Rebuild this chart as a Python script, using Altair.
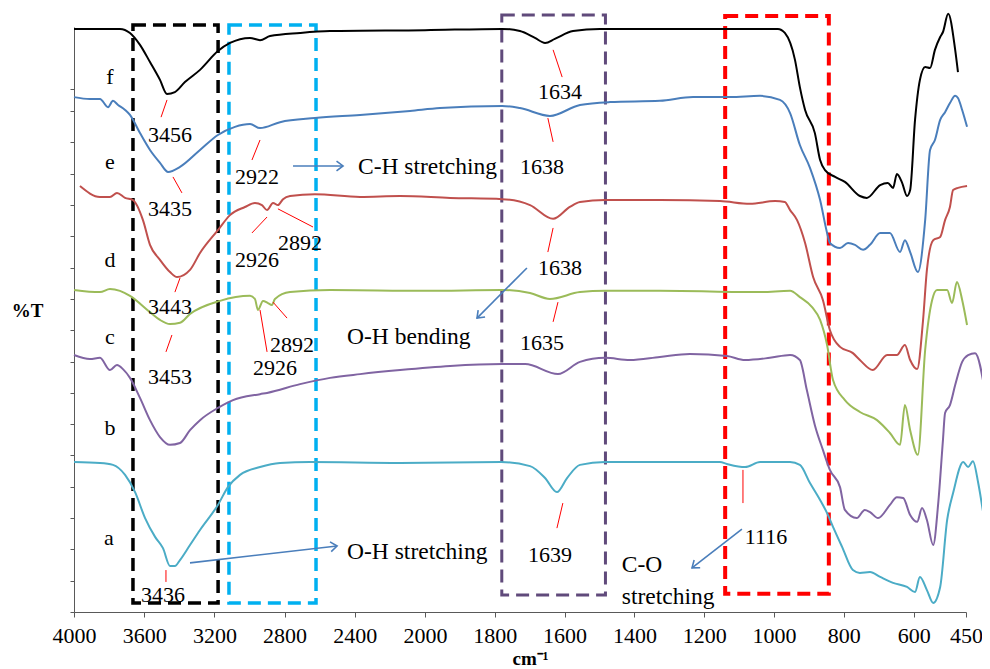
import altair as alt
import pandas as pd

# ---------------- data (wavenumber cm-1, offset %T in tick units) ----------------
series_names = ["a", "b", "c", "d", "e", "f"]
series_colors = ["#4bacc6", "#8064a2", "#9bbb59", "#c0504d", "#4a7ebb", "#000000"]

f_wn = [4000,3738,3681,3624,3567,3510,3470,3425,3368,3282,3180,3111,2997,2940,2883,2712,2541,2000,1779,1728,
        1685,1656,1628,1576,1499,989,969,940,926,911,883,868,854,825,797,754,734,696,674,659,
        648,633,619,610,596,582,567,553,539,524,516,501,481,473]
f_t = [18.63,18.63,18.50,18.12,17.57,17.00,16.55,16.61,16.93,17.32,17.92,18.18,18.34,18.27,18.40,18.50,18.56,18.59,18.63,18.56,
       18.34,18.18,18.31,18.56,18.63,18.63,18.50,17.64,16.77,16.04,15.30,14.44,14.12,13.90,13.74,13.29,13.23,13.64,13.71,13.55,
       13.99,13.71,13.29,13.48,15.72,17.00,17.41,17.38,17.96,18.37,18.53,19.11,17.96,17.25]

e_wn = [4000,3909,3852,3806,3778,3749,3709,3681,3624,3567,3510,3464,3396,3282,3180,3083,2997,2940,2826,2627,
        2370,2085,1957,1779,1728,1642,1556,1470,1327,1232,1126,1040,983,954,926,897,868,848,840,811,
        788,768,745,725,696,668,639,625,610,588,567,553,539,524,510,496,481,473,461,447]
e_t = [16.45,16.39,16.39,16.13,16.33,16.20,16.04,15.88,15.30,14.76,14.35,14.06,14.22,14.76,15.24,15.50,15.59,15.46,15.65,15.78,
       15.88,16.01,16.10,16.17,16.10,15.85,16.20,16.29,16.33,16.45,16.45,16.49,16.36,15.94,14.92,14.19,13.16,12.11,11.79,11.63,
       11.79,11.73,11.57,11.73,12.11,12.11,11.50,11.88,11.50,10.86,12.52,14.76,15.08,15.72,15.97,16.26,16.49,16.42,16.04,15.50]

d_wn = [3966,3852,3795,3755,3709,3664,3607,3567,3510,3453,3413,3339,3282,3180,3111,3026,2969,2929,2900,2866,
        2838,2809,2769,2627,2370,2142,1928,1779,1699,1633,1585,1556,1484,1327,1155,1069,997,969,954,934,
        911,888,860,840,811,774,754,717,676,648,625,610,590,573,562,544,524,510,496,487,473,447]
d_t = [13.61,13.26,13.26,13.39,13.23,13.16,12.52,11.73,11.25,10.86,10.70,10.93,11.47,12.20,12.68,12.94,13.07,13.00,12.84,13.07,
       13.00,13.19,13.29,13.35,13.26,13.29,13.23,13.19,13.00,12.56,12.94,13.10,13.16,13.16,13.13,13.04,13.13,13.10,12.84,12.52,
       11.79,10.70,9.97,9.01,8.47,8.27,8.05,7.73,8.21,8.21,8.53,8.05,7.76,9.33,10.93,11.88,11.98,12.52,12.94,13.48,13.55,13.61]

c_wn = [4000,3852,3795,3738,3681,3567,3510,3453,3396,3339,3168,2997,2969,2952,2923,2895,2872,2855,2769,2541,
        2000,1779,1699,1642,1556,1484,1327,1040,954,926,891,868,848,831,797,754,705,668,639,625,
        610,588,567,547,533,504,490,476,461,447]
c_t = [10.29,10.22,10.32,10.26,10.10,9.58,9.33,9.20,9.24,9.52,9.94,10.10,10.00,9.65,9.94,9.87,9.81,10.00,10.22,10.29,
       10.26,10.29,10.19,10.00,10.22,10.26,10.26,10.22,10.26,10.06,9.74,9.33,8.53,7.41,6.77,6.39,6.13,5.72,5.34,6.61,
       5.81,5.02,8.37,9.97,10.29,10.29,9.87,10.54,9.97,9.17]

b_wn = [4000,3909,3852,3795,3755,3721,3681,3624,3567,3510,3453,3396,3339,3282,3180,3094,2940,2900,2712,2541,
        2370,2142,1928,1779,1713,1619,1556,1484,1413,1327,1241,1135,1083,1012,954,926,906,883,860,840,
        811,797,763,740,725,702,668,648,630,610,590,576,562,544,530,516,510,496,481,461,444,424,395]
b_t = [8.21,8.08,8.12,7.73,7.89,7.76,7.48,6.84,6.13,5.59,5.34,5.40,5.81,6.13,6.52,6.77,6.96,7.00,7.28,7.48,
       7.60,7.73,7.86,7.92,7.92,7.60,7.99,8.12,8.05,8.15,8.24,8.18,8.05,8.12,8.21,8.05,7.09,5.97,5.18,4.54,
       3.99,3.26,3.00,3.26,3.19,3.00,3.42,3.67,3.64,3.10,2.88,3.32,2.94,2.14,3.42,5.50,6.36,6.61,7.25,7.99,8.21,8.27,7.00]

a_wn = [4000,3852,3778,3709,3652,3595,3538,3493,3453,3425,3396,3339,3282,3180,3123,3054,2940,2826,2655,2142,
        1782,1699,1656,1622,1593,1556,1484,1155,1135,1083,1040,954,926,897,868,848,831,805,774,754,
        725,696,659,619,596,582,562,544,524,504,487,458,444,430,415,401]
a_t = [4.79,4.76,4.70,4.38,3.83,3.00,2.40,2.04,1.47,1.47,1.66,2.14,2.62,3.42,3.99,4.38,4.63,4.76,4.79,4.76,
       4.79,4.66,4.28,3.83,4.28,4.70,4.79,4.79,4.73,4.63,4.79,4.79,4.70,4.12,3.58,3.16,2.72,2.08,1.34,1.25,
       1.28,1.12,0.93,0.80,0.64,1.12,0.70,0.29,0.80,2.94,3.80,4.79,4.63,4.82,4.12,3.19]

# curve letters
letter_text = ["f", "e", "d", "c", "b", "a"]
letter_wn = [3795, 3795, 3795, 3795, 3795, 3801]
letter_t = [17.09, 14.38, 11.25, 8.79, 5.88, 2.36]

# peak labels and their leader lines
peak_text = ["3456", "3435", "2922", "2926", "2892", "3443", "3453", "2926", "2892", "3436",
             "1634", "1638", "1638", "1635", "1639", "1116"]
peak_wn = [3453, 3453, 2957, 2957, 2712, 3453, 3453, 2855, 2758, 3493,
           1613, 1665, 1613, 1665, 1642, 1023]
peak_t = [15.24, 12.88, 13.90, 11.25, 11.79, 9.74, 7.51, 7.80, 8.53, 0.54,
          16.61, 14.22, 10.99, 8.59, 1.82, 2.40]
lead_wn1 = [3470, 3436, 2940, 2900, 2838, 3396, 3442, 2940, 2866, 3476, 1633, 1648, 1633, 1619, 1605, 1089]
lead_t1 = [16.36, 13.90, 15.08, 12.62, 12.88, 10.67, 8.85, 9.65, 9.90, 1.34, 17.96, 15.78, 12.27, 9.90, 3.48, 4.54]
lead_wn2 = [3504, 3385, 2986, 2986, 2638, 3425, 3476, 2900, 2786, 3476, 1607, 1633, 1648, 1633, 1622, 1089]
lead_t2 = [15.81, 13.39, 14.44, 12.11, 12.30, 10.22, 8.31, 8.31, 9.39, 0.96, 17.09, 15.02, 11.50, 9.27, 2.68, 3.48]

# band annotations
note_text = ["O-H stretching", "C-H stretching", "O-H bending", "C-O", "stretching"]
note_wn = [2444, 2382, 2444, 1436, 1436]
note_t = [1.92, 14.22, 8.79, 1.50, 0.48]

# arrows (start -> head)
arrow_wn1 = [3339, 2752, 1708, 1092]
arrow_t1 = [1.57, 14.25, 10.99, 2.65]
arrow_wn2 = [2501, 2467, 1851, 1235]
arrow_t2 = [2.11, 14.25, 9.39, 1.41]
arrow_angle = [353, 0, 135, 142]

# dashed region boxes
box_wn1 = [3664, 3117, 1780, 1140]
box_wn2 = [3179, 2621, 1483, 843]
box_t1 = [0.29, 0.29, 0.54, 0.58]
box_t2 = [18.75, 18.75, 19.07, 19.04]
box_color = ["#000000", "#00b0f0", "#604a7b", "#ff0000"]
box_width = [3.5, 3.5, 3.0, 4.0]

x_ticks = [4000, 3600, 3200, 2800, 2400, 2000, 1800, 1600, 1400, 1200, 1000, 800, 600, 450]
y_ticks = list(range(0, 17)) + [16.7]

# ---------------- tables ----------------
rows = []
for name, wn, t in [("a", a_wn, a_t), ("b", b_wn, b_t), ("c", c_wn, c_t),
                    ("d", d_wn, d_t), ("e", e_wn, e_t), ("f", f_wn, f_t)]:
    for w, v in zip(wn, t):
        rows.append({"series": name, "wn": w, "t": v})
spectra = pd.DataFrame(rows)

letters = pd.DataFrame({"wn": letter_wn, "t": letter_t, "label": letter_text})
peaks = pd.DataFrame({"wn": peak_wn, "t": peak_t, "label": peak_text})
leaders = pd.DataFrame({"wn": lead_wn1, "t": lead_t1, "wn2": lead_wn2, "t2": lead_t2})
notes = pd.DataFrame({"wn": note_wn, "t": note_t, "label": note_text})
arrows = pd.DataFrame({"wn": arrow_wn1, "t": arrow_t1, "wn2": arrow_wn2, "t2": arrow_t2})
heads = pd.DataFrame({"wn": arrow_wn2, "t": arrow_t2, "ang": arrow_angle})
boxes = pd.DataFrame({"wn": box_wn1, "wn2": box_wn2, "t": box_t1, "t2": box_t2,
                      "col": box_color, "sw": box_width})

# ---------------- scales / axes ----------------
W, H = 892, 585
SERIF = "Liberation Serif"
x_scale = alt.Scale(domain=[4000, 2000, 450], range=[0, 351, W], nice=False, zero=False)
y_scale = alt.Scale(domain=[0, 18.69], nice=False, zero=False)

x_axis = alt.Axis(values=x_ticks, format="d", grid=False, labelFont=SERIF, labelFontSize=22,
                  labelColor="#000000", labelPadding=8, labelFlush=False, labelOverlap=False,
                  tickSize=5, tickColor="#595959", domainColor="#595959",
                  title="cm⁻¹", titleFont=SERIF, titleFontSize=19, titleFontWeight="bold",
                  titleColor="#000000", titleX=456, titleY=46, titleAlign="center",
                  titleBaseline="middle")
y_axis = alt.Axis(values=y_ticks, labels=False, grid=False, tickSize=4,
                  tickColor="#595959", domainColor="#595959",
                  title="%T", titleFont=SERIF, titleFontSize=19, titleFontWeight="bold",
                  titleColor="#000000", titleAngle=0, titleX=-47, titleY=283,
                  titleAlign="center", titleBaseline="middle")

X = alt.X("wn:Q", scale=x_scale, axis=x_axis)
Y = alt.Y("t:Q", scale=y_scale, axis=y_axis)

box_layer = alt.Chart(boxes).mark_rect(filled=False, strokeDash=[13, 7]).encode(
    x=X, x2="wn2:Q", y=Y, y2="t2:Q",
    stroke=alt.Stroke("col:N", scale=None),
    strokeWidth=alt.StrokeWidth("sw:Q", scale=None),
)

line_layer = alt.Chart(spectra).mark_line(strokeWidth=2, interpolate="monotone").encode(
    x=X, y=Y,
    color=alt.Color("series:N", scale=alt.Scale(domain=series_names, range=series_colors), legend=None),
    order=alt.Order("wn:Q", sort="descending"),
)

leader_layer = alt.Chart(leaders).mark_rule(color="#ff0000", strokeWidth=1).encode(
    x=X, y=Y, x2="wn2:Q", y2="t2:Q"
)

arrow_layer = alt.Chart(arrows).mark_rule(color="#4a7ebb", strokeWidth=1.6).encode(
    x=X, y=Y, x2="wn2:Q", y2="t2:Q"
)

head_layer = alt.Chart(heads).mark_point(
    shape="M -1 -0.75 L 0 0 L -1 0.75", filled=False, color="#4a7ebb",
    strokeWidth=1.6, size=170, opacity=1
).encode(x=X, y=Y, angle=alt.Angle("ang:Q", scale=None))

letter_layer = alt.Chart(letters).mark_text(font=SERIF, fontSize=22, color="#000000",
                                            align="center", baseline="middle").encode(
    x=X, y=Y, text="label:N")

peak_layer = alt.Chart(peaks).mark_text(font=SERIF, fontSize=22, color="#000000",
                                        align="center", baseline="middle").encode(
    x=X, y=Y, text="label:N")

note_layer = alt.Chart(notes).mark_text(font=SERIF, fontSize=23.5, color="#000000",
                                        align="left", baseline="middle").encode(
    x=X, y=Y, text="label:N")

chart = alt.layer(
    box_layer, line_layer, leader_layer, arrow_layer, head_layer,
    letter_layer, peak_layer, note_layer
).properties(
    width=W, height=H,
    autosize=alt.AutoSizeParams(type="none"),
    padding={"left": 66, "top": 19, "right": 16, "bottom": 55},
    background="white",
).configure_view(stroke=None)

chart.save("out.html", embed_options={"renderer": "svg", "actions": False})
